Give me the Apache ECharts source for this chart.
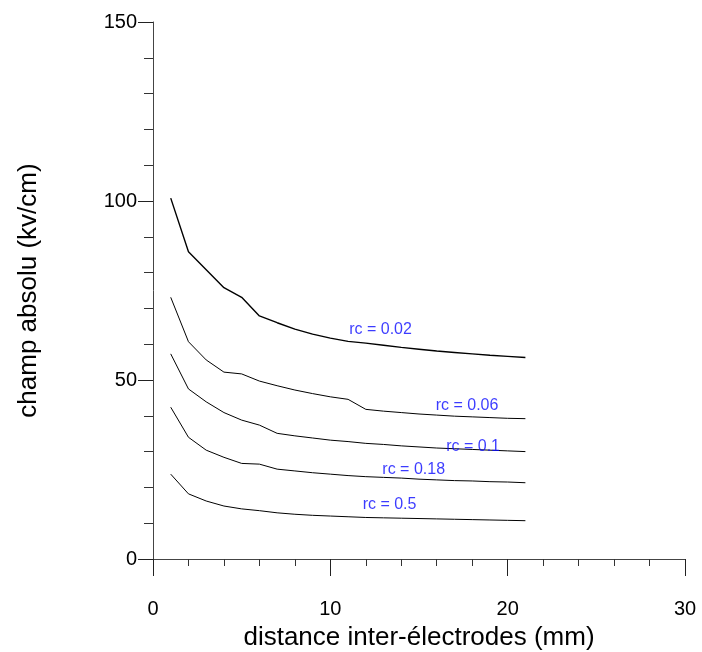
<!DOCTYPE html>
<html>
<head>
<meta charset="utf-8">
<script src="https://cdn.jsdelivr.net/npm/echarts@6/dist/echarts.min.js"></script>
<style>
  html, body { margin: 0; padding: 0; background: #fff; }
  #chart { width: 702px; height: 652px; }
</style>
</head>
<body>
<div id="chart"></div>
<script>
// distance inter-électrodes (mm)
var distances = [1, 2, 3, 4, 5, 6, 7, 8, 9, 10, 11, 12, 13, 14, 15, 16, 17, 18, 19, 20, 21];

// champ absolu (kv/cm) for each rc
var rc002 = [100.8, 85.8, 80.8, 75.8, 73.1, 67.9, 66.0, 64.2, 62.8, 61.7, 60.8, 60.3, 59.7, 59.1, 58.6, 58.1, 57.7, 57.3, 56.9, 56.6, 56.3];
var rc006 = [73.1, 60.7, 55.6, 52.2, 51.7, 49.7, 48.4, 47.2, 46.2, 45.3, 44.6, 41.8, 41.3, 40.9, 40.5, 40.2, 39.9, 39.7, 39.5, 39.3, 39.2];
var rc01 = [57.3, 47.5, 43.9, 40.9, 38.8, 37.4, 35.1, 34.4, 33.8, 33.2, 32.8, 32.3, 32.0, 31.6, 31.3, 31.0, 30.8, 30.6, 30.4, 30.2, 30.0];
var rc018 = [42.4, 34.0, 30.4, 28.4, 26.7, 26.5, 25.1, 24.6, 24.1, 23.7, 23.3, 23.0, 22.8, 22.6, 22.3, 22.1, 21.9, 21.8, 21.6, 21.5, 21.3];
var rc05 = [23.7, 18.2, 16.2, 14.8, 14.0, 13.5, 12.9, 12.5, 12.2, 12.0, 11.8, 11.6, 11.5, 11.4, 11.3, 11.2, 11.1, 11.0, 10.9, 10.8, 10.7];

// curve labels and where they sit (data coords)
var labelTexts = ['rc = 0.02', 'rc = 0.06', 'rc = 0.1', 'rc = 0.18', 'rc = 0.5'];
var labelX = [12.83, 17.71, 18.05, 14.7, 13.34];
var labelY = [64.2, 42.8, 31.3, 24.9, 15.3];

var xTicks = [0, 10, 20, 30];
var yTicks = [0, 50, 100, 150];

var FONT = 'Liberation Sans, Arial, sans-serif';

function pairs(ys) {
    return distances.map(function (d, i) { return [d, ys[i]]; });
}

function curve(ys, w) {
    return {
        type: 'line',
        data: pairs(ys),
        symbol: 'none',
        silent: true,
        lineStyle: { color: '#000', width: w }
    };
}

var chart = echarts.init(document.getElementById('chart'));
var option = {
    animation: false,
    backgroundColor: '#fff',
    grid: { left: 153, top: 22, right: 17, bottom: 93, containLabel: false, outerBoundsMode: 'none' },
    xAxis: {
        type: 'value',
        min: xTicks[0],
        max: xTicks[xTicks.length - 1],
        interval: 10,
        name: 'distance inter-électrodes (mm)',
        nameLocation: 'middle',
        nameGap: 66,
        nameTextStyle: { fontFamily: FONT, fontSize: 26, color: '#000' },
        axisLine: { show: true, onZero: false, lineStyle: { color: '#444', width: 1 } },
        axisTick: { show: true, inside: false, length: 17, lineStyle: { color: '#222' } },
        minorTick: { show: true, splitNumber: 5, length: 7, lineStyle: { color: '#333' } },
        axisLabel: { margin: 40, fontFamily: FONT, fontSize: 20, color: '#000' },
        splitLine: { show: false }
    },
    yAxis: {
        type: 'value',
        min: yTicks[0],
        max: yTicks[yTicks.length - 1],
        interval: 50,
        name: 'champ absolu (kv/cm)',
        nameLocation: 'middle',
        nameGap: 111,
        nameRotate: 90,
        nameTextStyle: { fontFamily: FONT, fontSize: 26, color: '#000' },
        axisLine: { show: true, onZero: false, lineStyle: { color: '#444', width: 1 } },
        axisTick: { show: true, inside: false, length: 15, lineStyle: { color: '#222' } },
        minorTick: { show: true, splitNumber: 5, length: 9, lineStyle: { color: '#333' } },
        axisLabel: { margin: 16, fontFamily: FONT, fontSize: 20, color: '#000' },
        splitLine: { show: false }
    },
    series: [
        curve(rc002, 1.4),
        curve(rc006, 1),
        curve(rc01, 1),
        curve(rc018, 1),
        curve(rc05, 1),
        {
            type: 'scatter',
            symbolSize: 0,
            silent: true,
            z: 5,
            data: labelTexts.map(function (t, i) {
                return { value: [labelX[i], labelY[i]], name: t };
            }),
            label: {
                show: true,
                position: 'inside',
                formatter: '{b}',
                fontFamily: FONT,
                fontSize: 16,
                color: '#0a0aff'
            }
        }
    ]
};
chart.setOption(option);
</script>
</body>
</html>
